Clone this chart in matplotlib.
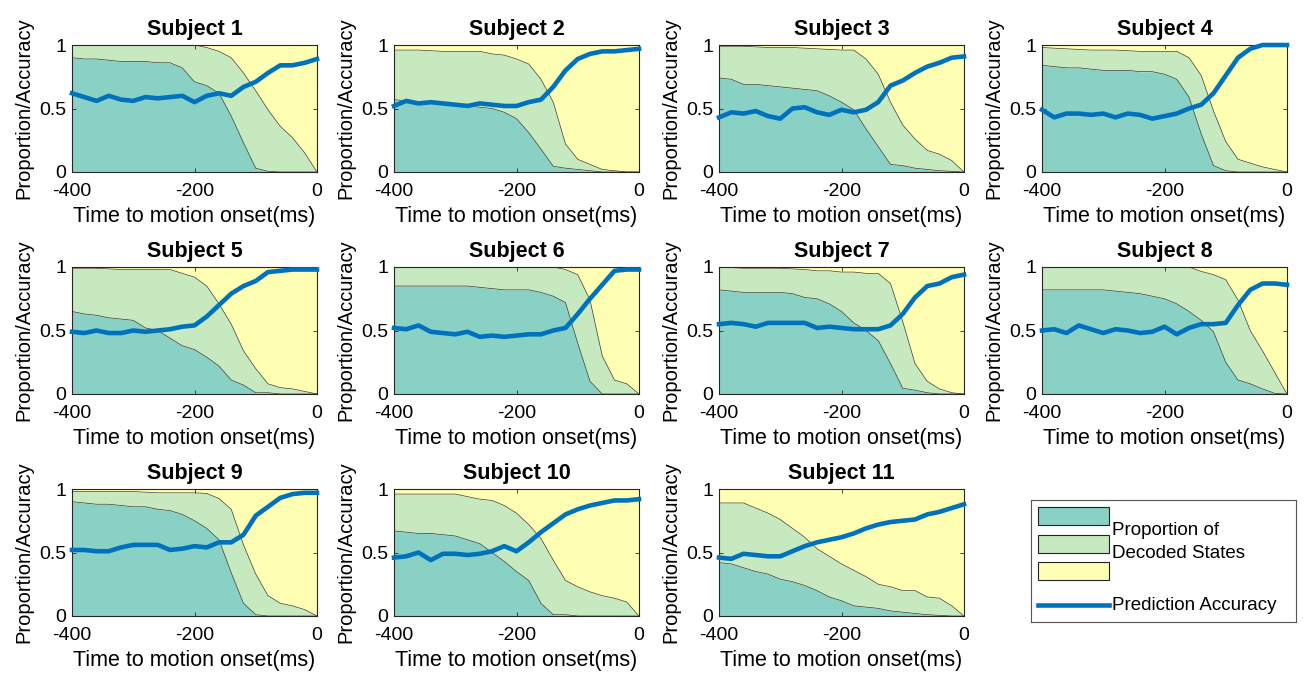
import numpy as np
import matplotlib
matplotlib.use("Agg")
import matplotlib.pyplot as plt
from matplotlib.patches import Rectangle
from matplotlib.lines import Line2D

plt.rcParams['font.family'] = ['Liberation Sans', 'DejaVu Sans']

time_ms = [-400, -380, -360, -340, -320, -300, -280, -260, -240, -220, -200,
           -180, -160, -140, -120, -100, -80, -60, -40, -20, 0]

subjects = ["Subject 1", "Subject 2", "Subject 3", "Subject 4", "Subject 5", "Subject 6",
            "Subject 7", "Subject 8", "Subject 9", "Subject 10", "Subject 11"]

# cumulative proportion: state 1 (teal)
state1 = [
    [0.90, 0.89, 0.89, 0.88, 0.87, 0.87, 0.87, 0.86, 0.86, 0.82, 0.71, 0.68, 0.62, 0.44, 0.23, 0.03, 0.005, 0, 0, 0, 0],
    [0.57, 0.56, 0.55, 0.54, 0.53, 0.52, 0.52, 0.51, 0.50, 0.47, 0.42, 0.31, 0.18, 0.045, 0.03, 0.02, 0.01, 0.0, 0, 0, 0],
    [0.74, 0.73, 0.69, 0.69, 0.68, 0.67, 0.66, 0.65, 0.64, 0.60, 0.55, 0.49, 0.34, 0.20, 0.06, 0.05, 0.03, 0.02, 0.01, 0.005, 0],
    [0.84, 0.83, 0.82, 0.82, 0.81, 0.80, 0.80, 0.80, 0.79, 0.79, 0.77, 0.73, 0.59, 0.30, 0.05, 0.01, 0, 0, 0, 0, 0],
    [0.65, 0.63, 0.62, 0.60, 0.59, 0.58, 0.52, 0.50, 0.44, 0.38, 0.35, 0.29, 0.22, 0.11, 0.07, 0.01, 0.01, 0, 0, 0, 0],
    [0.85, 0.85, 0.85, 0.85, 0.85, 0.85, 0.85, 0.84, 0.83, 0.82, 0.82, 0.82, 0.80, 0.77, 0.72, 0.40, 0.10, 0, 0, 0, 0],
    [0.82, 0.81, 0.80, 0.80, 0.80, 0.80, 0.79, 0.76, 0.75, 0.71, 0.65, 0.56, 0.50, 0.42, 0.24, 0.045, 0.03, 0.01, 0, 0, 0],
    [0.82, 0.82, 0.82, 0.82, 0.82, 0.82, 0.81, 0.80, 0.79, 0.77, 0.75, 0.71, 0.65, 0.58, 0.49, 0.25, 0.11, 0.08, 0.04, 0.005, 0],
    [0.90, 0.89, 0.88, 0.88, 0.87, 0.86, 0.86, 0.84, 0.83, 0.80, 0.75, 0.69, 0.60, 0.34, 0.10, 0.01, 0, 0, 0, 0, 0],
    [0.67, 0.66, 0.65, 0.65, 0.64, 0.63, 0.60, 0.57, 0.50, 0.43, 0.35, 0.28, 0.10, 0.01, 0.01, 0, 0, 0, 0, 0, 0],
    [0.42, 0.41, 0.38, 0.35, 0.33, 0.29, 0.27, 0.24, 0.20, 0.15, 0.12, 0.08, 0.07, 0.06, 0.04, 0.03, 0.02, 0.01, 0.005, 0, 0],
]

# cumulative proportion: state 1 + state 2 (teal + green)
state12 = [
    [1.0, 1.0, 1.0, 1.0, 1.0, 1.0, 1.0, 1.0, 1.0, 1.0, 1.0, 0.98, 0.95, 0.90, 0.78, 0.64, 0.49, 0.36, 0.27, 0.15, 0.0],
    [0.96, 0.96, 0.96, 0.955, 0.95, 0.95, 0.95, 0.95, 0.93, 0.92, 0.89, 0.85, 0.73, 0.55, 0.22, 0.10, 0.06, 0.02, 0.01, 0.0, 0.0],
    [0.99, 0.99, 0.99, 0.985, 0.98, 0.98, 0.98, 0.975, 0.97, 0.965, 0.96, 0.96, 0.89, 0.77, 0.55, 0.37, 0.26, 0.17, 0.14, 0.09, 0.0],
    [0.98, 0.975, 0.97, 0.965, 0.96, 0.96, 0.96, 0.955, 0.95, 0.95, 0.95, 0.95, 0.90, 0.76, 0.48, 0.24, 0.10, 0.07, 0.04, 0.02, 0.0],
    [0.99, 0.99, 0.99, 0.985, 0.98, 0.98, 0.98, 0.98, 0.98, 0.95, 0.92, 0.85, 0.71, 0.55, 0.34, 0.20, 0.08, 0.05, 0.04, 0.02, 0.0],
    [1.0, 1.0, 1.0, 1.0, 1.0, 1.0, 1.0, 1.0, 1.0, 1.0, 1.0, 1.0, 1.0, 1.0, 0.98, 0.94, 0.74, 0.30, 0.11, 0.08, 0.0],
    [1.0, 0.995, 0.99, 0.99, 0.99, 0.99, 0.985, 0.98, 0.97, 0.97, 0.96, 0.96, 0.95, 0.95, 0.87, 0.57, 0.24, 0.10, 0.04, 0.01, 0.0],
    [1.0, 1.0, 1.0, 1.0, 1.0, 1.0, 1.0, 1.0, 1.0, 1.0, 1.0, 1.0, 1.0, 0.965, 0.94, 0.90, 0.74, 0.50, 0.34, 0.17, 0.0],
    [0.98, 0.98, 0.98, 0.98, 0.98, 0.98, 0.975, 0.97, 0.97, 0.97, 0.97, 0.965, 0.925, 0.84, 0.56, 0.33, 0.16, 0.10, 0.08, 0.05, 0.0],
    [0.96, 0.96, 0.96, 0.96, 0.96, 0.96, 0.94, 0.92, 0.91, 0.87, 0.81, 0.72, 0.61, 0.44, 0.28, 0.23, 0.19, 0.16, 0.14, 0.11, 0.0],
    [0.89, 0.89, 0.89, 0.85, 0.81, 0.76, 0.69, 0.62, 0.53, 0.47, 0.41, 0.36, 0.31, 0.25, 0.23, 0.20, 0.20, 0.15, 0.14, 0.08, 0.0],
]

accuracy = [
    [0.62, 0.59, 0.56, 0.60, 0.57, 0.56, 0.59, 0.58, 0.59, 0.60, 0.55, 0.60, 0.62, 0.60, 0.67, 0.71, 0.78, 0.84, 0.84, 0.86, 0.89],
    [0.52, 0.56, 0.54, 0.55, 0.54, 0.53, 0.52, 0.54, 0.53, 0.52, 0.52, 0.55, 0.57, 0.67, 0.80, 0.89, 0.93, 0.95, 0.95, 0.96, 0.97],
    [0.43, 0.47, 0.46, 0.48, 0.44, 0.42, 0.50, 0.51, 0.47, 0.45, 0.49, 0.47, 0.49, 0.55, 0.68, 0.72, 0.78, 0.83, 0.86, 0.90, 0.91],
    [0.49, 0.43, 0.46, 0.46, 0.45, 0.46, 0.43, 0.46, 0.45, 0.42, 0.44, 0.46, 0.50, 0.53, 0.62, 0.76, 0.90, 0.97, 1.0, 1.0, 1.0],
    [0.49, 0.48, 0.50, 0.48, 0.48, 0.50, 0.49, 0.50, 0.51, 0.53, 0.54, 0.61, 0.70, 0.79, 0.85, 0.89, 0.96, 0.97, 0.98, 0.98, 0.98],
    [0.52, 0.51, 0.54, 0.49, 0.48, 0.47, 0.49, 0.45, 0.46, 0.45, 0.46, 0.47, 0.47, 0.50, 0.52, 0.63, 0.75, 0.86, 0.97, 0.98, 0.98],
    [0.55, 0.56, 0.55, 0.53, 0.56, 0.56, 0.56, 0.56, 0.52, 0.53, 0.52, 0.51, 0.51, 0.51, 0.54, 0.63, 0.76, 0.85, 0.87, 0.92, 0.94],
    [0.50, 0.51, 0.48, 0.54, 0.51, 0.48, 0.51, 0.50, 0.48, 0.49, 0.53, 0.47, 0.52, 0.55, 0.55, 0.56, 0.70, 0.82, 0.87, 0.87, 0.86],
    [0.52, 0.52, 0.51, 0.51, 0.54, 0.56, 0.56, 0.56, 0.52, 0.53, 0.55, 0.54, 0.58, 0.58, 0.64, 0.79, 0.86, 0.93, 0.96, 0.97, 0.97],
    [0.46, 0.47, 0.50, 0.44, 0.49, 0.49, 0.48, 0.49, 0.51, 0.55, 0.51, 0.58, 0.66, 0.73, 0.80, 0.84, 0.87, 0.89, 0.91, 0.91, 0.92],
    [0.46, 0.45, 0.49, 0.48, 0.47, 0.47, 0.51, 0.55, 0.58, 0.60, 0.62, 0.65, 0.69, 0.72, 0.74, 0.75, 0.76, 0.80, 0.82, 0.85, 0.88],
]

x_ticks = [-400, -200, 0]
y_ticks = [0, 0.5, 1]
y_ticklabels = ["0", "0.5", "1"]
xlabel_text = "Time to motion onset(ms)"
ylabel_text = "Proportion/Accuracy"
legend_patch_text = "Proportion of\nDecoded States"
legend_line_text = "Prediction Accuracy"

c_teal = "#8ad1c5"
c_green = "#c7e9c0"
c_yellow = "#ffffb3"
c_line = "#0072bd"
c_edge = "#3a3a3a"

W, H = 1304, 677
fig = plt.figure(figsize=(W / 100, H / 100), dpi=100)

col_left = [72, 394, 719, 1042]
row_top = [45, 267, 489]
ax_w, ax_h = 245, 127

x = np.array(time_ms)
for i, name in enumerate(subjects):
    r, c = divmod(i, 4)
    left = col_left[c] / W
    bottom = 1 - (row_top[r] + ax_h) / H
    ax = fig.add_axes([left, bottom, ax_w / W, ax_h / H])
    b1 = np.array(state1[i])
    b2 = np.array(state12[i])
    ax.fill_between(x, 0, b1, color=c_teal, lw=0)
    ax.fill_between(x, b1, b2, color=c_green, lw=0)
    ax.fill_between(x, b2, 1, color=c_yellow, lw=0)
    ax.plot(x, b1, color=c_edge, lw=0.5)
    ax.plot(x, b2, color=c_edge, lw=0.5)
    ax.plot(x, accuracy[i], color=c_line, lw=3.3, solid_joinstyle='round', clip_on=False, zorder=5)
    ax.set_xlim(-400, 0)
    ax.set_ylim(0, 1)
    ax.set_xticks(x_ticks)
    ax.set_xticklabels([str(t) for t in x_ticks])
    ax.set_yticks(y_ticks)
    ax.set_yticklabels(y_ticklabels)
    ax.tick_params(direction='in', top=True, right=True, length=3, width=0.6,
                   labelsize=14, colors='#262626', labelcolor='black')
    ax.tick_params(axis='x', pad=8)
    ax.tick_params(axis='y', pad=4)
    for s in ax.spines.values():
        s.set_linewidth(0.8)
        s.set_color('#262626')
    ax.set_title(name, fontsize=15.5, fontweight='bold', pad=7)
    ax.set_xlabel(xlabel_text, fontsize=15.5, labelpad=4)
    ax.set_ylabel(ylabel_text, fontsize=14.5, labelpad=4)

# legend box
lax = fig.add_axes([1031 / W, 1 - 622 / H, (1296 - 1031) / W, (622 - 500) / H])
lax.set_xlim(0, 265)
lax.set_ylim(122, 0)
lax.set_xticks([])
lax.set_yticks([])
for s in lax.spines.values():
    s.set_linewidth(0.8)
    s.set_color('#555555')
for y0, col in zip([7, 35, 62], [c_teal, c_green, c_yellow]):
    lax.add_patch(Rectangle((7, y0), 71, 18, facecolor=col, edgecolor='#222222', lw=0.8))
lax.add_line(Line2D([7, 78], [105, 105], color=c_line, lw=3.3))
lax.text(81, 42, legend_patch_text, fontsize=13.5, va='center', ha='left', linespacing=1.4)
lax.text(81, 105, legend_line_text, fontsize=13.5, va='center', ha='left')

fig.savefig("out.png", dpi=100)
